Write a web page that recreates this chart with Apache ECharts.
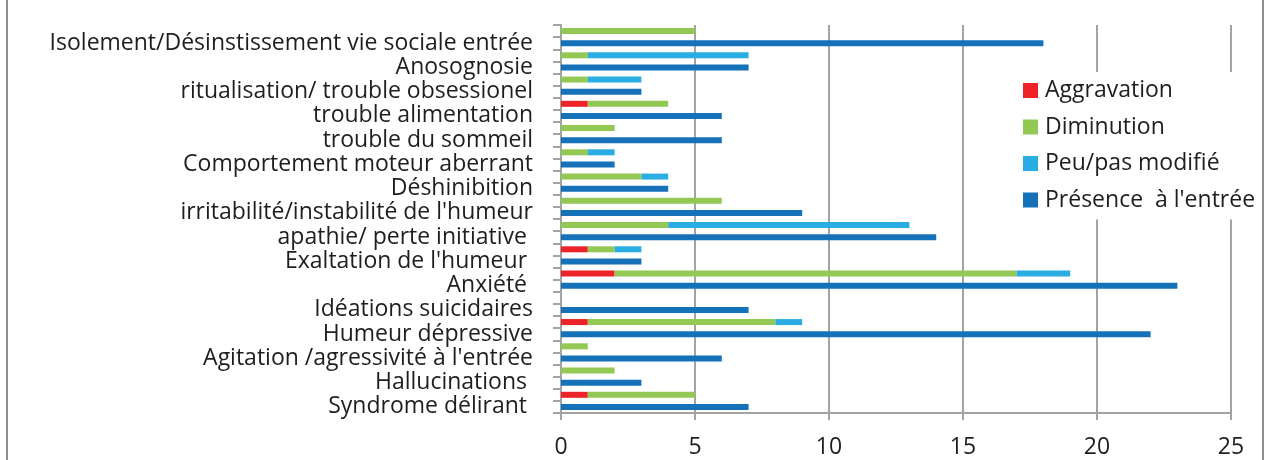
<!DOCTYPE html>
<html>
<head>
<meta charset="utf-8">
<script src="https://cdn.jsdelivr.net/npm/echarts@6/dist/echarts.min.js"></script>
<style>
  html, body { margin: 0; padding: 0; background: #fff; }
  #chart { width: 1267px; height: 460px; }
  .frame { position: absolute; left: 6px; top: 0; width: 1254px; height: 460px;
           border-left: 2px solid #8e8e8e; border-right: 2px solid #8e8e8e; pointer-events: none; }
</style>
</head>
<body>
<div id="chart"></div>
<div class="frame"></div>
<script>
// categories from bottom to top
const categories = [
  'Syndrome délirant ', 'Hallucinations ', "Agitation /agressivité à l'entrée",
  'Humeur dépressive', 'Idéations suicidaires', 'Anxiété ',
  "Exaltation de l'humeur ", 'apathie/ perte initiative ',
  "irritabilité/instabilité de l'humeur", 'Déshinibition',
  'Comportement moteur aberrant', 'trouble du sommeil', 'trouble alimentation',
  'ritualisation/ trouble obsessionel', 'Anosognosie',
  'Isolement/Désinstissement vie sociale entrée'
];
const presence    = [7, 3, 6, 22, 7, 23, 3, 14, 9, 4, 2, 6, 6, 3, 7, 18];
const aggravation = [1, 0, 0, 1, 0, 2, 1, 0, 0, 0, 0, 0, 1, 0, 0, 0];
const diminution  = [4, 2, 1, 7, 0, 15, 1, 4, 6, 3, 1, 2, 3, 1, 1, 5];
const peuModifie  = [0, 0, 0, 1, 0, 2, 1, 9, 0, 1, 1, 0, 0, 2, 6, 0];
const xTicks = { min: 0, max: 25, step: 5 };

// each category gets two rows: presence row, then change row above it
let labels = [], rowPresence = [], rowAggr = [], rowDim = [], rowPeu = [];
categories.forEach((c, i) => {
  labels.push(c, '');
  rowPresence.push(presence[i], '-');
  rowAggr.push('-', aggravation[i] || '-');
  rowDim.push('-', diminution[i] || '-');
  rowPeu.push('-', peuModifie[i] || '-');
});

const font = 'Open Sans';
const txt = '#1e1e1e';
const gray = '#a3a3a3';

let chart = echarts.init(document.getElementById('chart'));
let barW = 6;
let option = {
  animation: false,
  textStyle: { fontFamily: font },
  grid: { left: 561, right: 36, top: 25, bottom: 47 },
  legend: {
    orient: 'vertical',
    left: 1015, top: 72,
    padding: [7, 4, 8, 8],
    backgroundColor: '#fff',
    itemWidth: 15, itemHeight: 15, itemGap: 13.5,
    icon: 'rect',
    textStyle: { fontFamily: font, fontSize: 23, color: txt, padding: [0, 0, 0, 2] },
    data: ['Aggravation', 'Diminution', 'Peu/pas modifié', 'Présence  à l\'entrée']
  },
  xAxis: {
    type: 'value',
    min: xTicks.min, max: xTicks.max, interval: xTicks.step,
    axisLine: { show: true, lineStyle: { color: gray, width: 2 } },
    axisTick: { show: true, length: 7, lineStyle: { color: gray, width: 2 } },
    splitLine: { show: true, lineStyle: { color: gray, width: 2 } },
    axisLabel: { fontFamily: font, fontSize: 23, color: txt, margin: 23 }
  },
  yAxis: {
    type: 'category',
    data: labels,
    axisLine: { show: true, lineStyle: { color: gray, width: 2 } },
    axisTick: { show: true, interval: 0, length: 8, lineStyle: { color: gray, width: 2 } },
    axisLabel: { interval: 0, fontFamily: font, fontSize: 23, color: txt, margin: 28, padding: [3, 0, 0, 0] }
  },
  series: [
    { name: 'Aggravation', type: 'bar', stack: 'all', barWidth: barW, itemStyle: { color: '#ee2229' }, data: rowAggr },
    { name: 'Diminution', type: 'bar', stack: 'all', barWidth: barW, itemStyle: { color: '#92c853' }, data: rowDim },
    { name: 'Peu/pas modifié', type: 'bar', stack: 'all', barWidth: barW, itemStyle: { color: '#2aade3' }, data: rowPeu },
    { name: 'Présence  à l\'entrée', type: 'bar', stack: 'all', barWidth: barW, itemStyle: { color: '#1571b8' }, data: rowPresence }
  ]
};
chart.setOption(option);
</script>
</body>
</html>
